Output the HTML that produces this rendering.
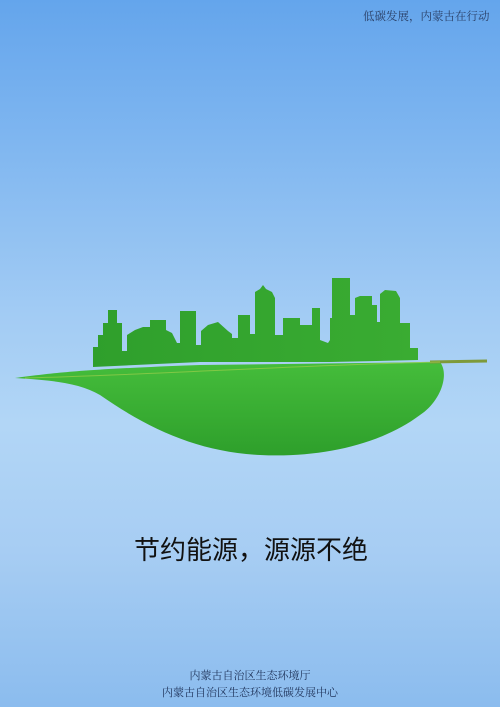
<!DOCTYPE html>
<html><head><meta charset="utf-8"><style>
html,body{margin:0;padding:0}
body{width:500px;height:707px;overflow:hidden;position:relative;
background:linear-gradient(to bottom,#64a5ec 0%,#7fb6f0 20%,#a3ccf4 45%,#b2d6f6 60%,#a7cdf3 78%,#8bbcee 100%);
font-family:"Liberation Serif","Noto Serif CJK SC",serif}
.t{position:absolute;white-space:nowrap}
</style></head><body>
<div class="t" style="left:363px;top:8px;font-size:11.5px;color:#2a3f66">低碳发展，内蒙古在行动</div>
<svg width="500" height="707" style="position:absolute;left:0;top:0">
<defs>
<linearGradient id="lg" x1="0" y1="0" x2="0" y2="1">
<stop offset="0" stop-color="#45bd3b"/><stop offset="1" stop-color="#2e9f2b"/></linearGradient>
<linearGradient id="cg" x1="0" y1="0" x2="1" y2="0">
<stop offset="0" stop-color="#2f9f2c"/><stop offset="1" stop-color="#3aac32"/></linearGradient>
</defs>
<path fill="url(#cg)" d="M93,367 L93,347 L98,347 L98,335 L103,335 L103,323 L108,323 L108,310 L117,310 L117,323 L122,323 L122,351 L127,351 L127,335 L135,330 L143,327 L150,327 L150,320 L166,320 L166,330 L172,333 L177,343 L180,343 L180,311 L196,311 L196,345 L201,345 L201,331 L208,325 L218,322 L228,331 L232,334 L232,338 L238,338 L238,315 L250,315 L250,334 L255,334 L255,292 L260,289 L263,285 L266,289 L272,292 L275,298 L275,335 L283,335 L283,318 L300,318 L300,325 L312,325 L312,308 L320,308 L320,340 L328,343 L330,340 L330,318 L332,318 L332,278 L350,278 L350,315 L355,315 L355,298 L360,296 L372,296 L372,305 L377,305 L377,322 L380,322 L380,294 L385,290 L396,291 L400,298 L400,323 L410,323 L410,348 L418,348 L418,360 L330,362 L200,362 L93,367 Z"/>
<path fill="url(#lg)" d="M15,378 C60,372 90,369 200,365 L440,362 C450,375 440,402 420,415 C380,445 320,458 260,455 C200,452 150,430 100,395 C80,383 50,380 15,378 Z"/>
<path d="M430,362 L487,361" stroke="#7e9a3a" stroke-width="3" fill="none"/>
<path d="M25,378 C150,375 300,365 440,362" stroke="#9bcf4a" stroke-width="1" fill="none" opacity="0.7"/>
</svg>
<div class="t" style="left:134px;top:530px;font-size:26px;color:#111;font-family:'Liberation Sans','Noto Sans CJK SC',sans-serif">节约能源，源源不绝</div>
<div class="t" style="left:0;width:500px;text-align:center;top:667px;font-size:11px;color:#22375e">内蒙古自治区生态环境厅</div>
<div class="t" style="left:0;width:500px;text-align:center;top:684px;font-size:11px;color:#22375e">内蒙古自治区生态环境低碳发展中心</div>
</body></html>
